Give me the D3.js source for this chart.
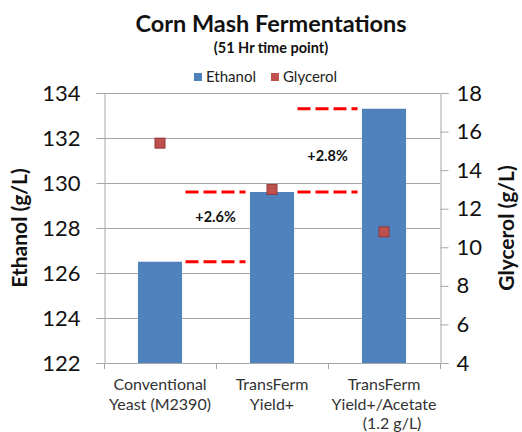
<!DOCTYPE html>
<html>
<head>
<meta charset="utf-8">
<script src="https://cdn.jsdelivr.net/npm/d3@7"></script>
<style>
  body { margin: 0; background: #fff; }
  svg { display: block; font-family: Lato, "Open Sans", sans-serif; }
</style>
</head>
<body>
<svg id="chart" width="522" height="432"></svg>
<script>
const categories = [
  ['Conventional', 'Yeast (M2390)'],
  ['TransFerm', 'Yield+'],
  ['TransFerm', 'Yield+/Acetate', '(1.2 g/L)'],
];
const ethanol  = [126.5, 129.6, 133.3];
const glycerol = [15.4, 13.0, 10.8];
const ethanolTicks  = [122, 124, 126, 128, 130, 132, 134];
const glycerolTicks = [4, 6, 8, 10, 12, 14, 16, 18];
// dashed reference levels drawn in the gap after category `gap`
const refLines = [
  { gap: 0, value: 126.5 },
  { gap: 0, value: 129.6 },
  { gap: 1, value: 129.6 },
  { gap: 1, value: 133.3 },
];
const gains = [
  { gap: 0, value: 128.5, label: '+2.6%' },
  { gap: 1, value: 131.2, label: '+2.8%' },
];

const svg = d3.select('#chart');
const plot = { left: 104, right: 440, top: 93, bottom: 363 };
const grid = '#a6a6a6';

const x = d3.scaleBand().domain(d3.range(categories.length))
  .range([plot.left, plot.right]).paddingInner(0.607).paddingOuter(0.3035);
const yL = d3.scaleLinear().domain([122, 134]).range([plot.bottom, plot.top]);
const yR = d3.scaleLinear().domain([4, 18]).range([plot.bottom, plot.top]);
const step = x.step();
const gapX = i => x(i) + x.bandwidth() + (step - x.bandwidth()) / 2 - 0.5;

// Title
svg.append('text').attr('x', 271).attr('y', 32).attr('text-anchor', 'middle')
  .attr('font-size', 23.5).attr('font-weight', 700).attr('fill', '#111')
  .text('Corn Mash Fermentations');
svg.append('text').attr('x', 271).attr('y', 53).attr('text-anchor', 'middle')
  .attr('font-size', 14.5).attr('font-weight', 700).attr('fill', '#111')
  .text('(51 Hr time point)');

// Legend
const legend = [['Ethanol', '#4f81bd'], ['Glycerol', '#c0504d']];
const lg = svg.append('g').attr('transform', 'translate(194,77)');
let lx = 0;
legend.forEach(([name, c]) => {
  lg.append('rect').attr('x', lx).attr('y', -4).attr('width', 8).attr('height', 8).attr('fill', c);
  const t = lg.append('text').attr('x', lx + 12).attr('y', 5)
    .attr('font-size', 15).attr('fill', '#222').text(name);
  lx += 12 + t.node().getComputedTextLength() + 15;
});

// Gridlines
svg.append('g').selectAll('line').data(ethanolTicks).join('line')
  .attr('x1', plot.left).attr('x2', plot.right)
  .attr('y1', d => Math.round(yL(d)) + 0.5).attr('y2', d => Math.round(yL(d)) + 0.5)
  .attr('stroke', grid);

// Left axis
const axL = svg.append('g').attr('transform', `translate(${plot.left + 0.5},0)`)
  .call(d3.axisLeft(yL).tickValues(ethanolTicks).tickSize(8).tickPadding(16));
axL.selectAll('.domain, line').attr('stroke', grid);
axL.selectAll('text').attr('font-size', 22).attr('fill', '#111').attr('font-family', 'Lato, sans-serif');

// Right axis
const axR = svg.append('g').attr('transform', `translate(${plot.right + 0.5},0)`)
  .call(d3.axisRight(yR).tickValues(glycerolTicks).tickSize(8).tickPadding(8));
axR.selectAll('.domain, line').attr('stroke', grid);
axR.selectAll('text').attr('font-size', 22).attr('fill', '#111').attr('font-family', 'Lato, sans-serif');

// Bars
svg.append('g').selectAll('rect').data(ethanol).join('rect')
  .attr('x', (d, i) => x(i)).attr('width', x.bandwidth())
  .attr('y', d => yL(d)).attr('height', d => yL(122) - yL(d))
  .attr('fill', '#4f81bd');

// Bottom axis
const bx = svg.append('g');
bx.append('line').attr('x1', plot.left).attr('x2', plot.right + 1)
  .attr('y1', plot.bottom + 0.5).attr('y2', plot.bottom + 0.5).attr('stroke', grid);
bx.selectAll('.tk').data(d3.range(categories.length + 1)).join('line').attr('class', 'tk')
  .attr('x1', i => Math.round(plot.left + i * step) + 0.5).attr('x2', i => Math.round(plot.left + i * step) + 0.5)
  .attr('y1', plot.bottom).attr('y2', plot.bottom + 6).attr('stroke', grid);
categories.forEach((lines, i) => {
  const t = bx.append('text').attr('text-anchor', 'middle').attr('font-size', 16).attr('fill', '#333');
  lines.forEach((s, j) => {
    t.append('tspan').attr('x', x(i) + x.bandwidth() / 2 + (j === 2 ? 8 : 0))
      .attr('y', 390 + j * 19.5).text(s);
  });
});

// Dashed reference lines
svg.append('g').selectAll('line').data(refLines).join('line')
  .attr('x1', d => gapX(d.gap) - 30).attr('x2', d => gapX(d.gap) + 30)
  .attr('y1', d => yL(d.value)).attr('y2', d => yL(d.value))
  .attr('stroke', '#ff0000').attr('stroke-width', 3).attr('stroke-dasharray', '13,5');

// Gain labels
svg.append('g').selectAll('text').data(gains).join('text')
  .attr('x', d => gapX(d.gap)).attr('y', d => yL(d.value) + 5)
  .attr('text-anchor', 'middle').attr('font-size', 14.5).attr('font-weight', 700).attr('fill', '#111')
  .text(d => d.label);

// Glycerol markers
svg.append('g').selectAll('rect').data(glycerol).join('rect')
  .attr('x', (d, i) => x(i) + x.bandwidth() / 2 - 5).attr('y', d => yR(d) - 5)
  .attr('width', 10).attr('height', 10)
  .attr('fill', '#c0504d').attr('stroke', '#8e3b38').attr('stroke-width', 1);

// Axis titles
svg.append('text').attr('transform', 'translate(27,228) rotate(-90)').attr('text-anchor', 'middle')
  .attr('font-size', 21).attr('font-weight', 700).attr('fill', '#111').text('Ethanol (g/L)');
svg.append('text').attr('transform', 'translate(514,228) rotate(-90)').attr('text-anchor', 'middle')
  .attr('font-size', 21).attr('font-weight', 700).attr('fill', '#111').text('Glycerol (g/L)');
</script>
</body>
</html>
